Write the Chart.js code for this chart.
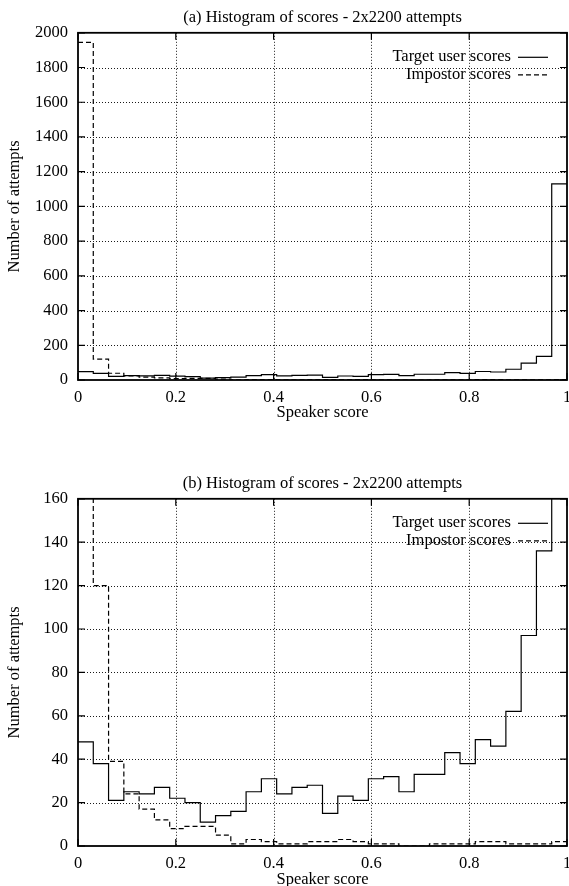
<!DOCTYPE html>
<html><head><meta charset="utf-8">
<script src="https://cdn.jsdelivr.net/npm/chart.js@4.4.1/dist/chart.umd.min.js"></script>
<style>
html,body{margin:0;padding:0;background:#fff;overflow:hidden;width:569px;height:886px;}
.wrap{position:absolute;left:0;width:569px;}
</style></head><body>
<div class="wrap" style="top:0;height:423px"><canvas id="ca"></canvas></div>
<div class="wrap" style="top:466px;height:424px"><canvas id="cb"></canvas></div>
<script>
// ---- data ----
const binCount = 32; // bins of width 1/32 over [0,1]
const targetScores   = [48,38,21,25,24,27,22,20,11,14,16,25,31,24,27,28,15,23,21,31,32,25,33,33,43,38,49,46,62,97,136,1130];
const impostorScores = [1945,120,39,24,17,12,8,9,9,5,1,3,2,1,1,2,2,3,2,1,1,0,0,1,1,1,2,2,1,1,1,2];
const seriesLabels = ['Target user scores', 'Impostor scores'];
const xTicks  = [0, 0.2, 0.4, 0.6, 0.8, 1];
const yTicksA = [0, 200, 400, 600, 800, 1000, 1200, 1400, 1600, 1800, 2000];
const yTicksB = [0, 20, 40, 60, 80, 100, 120, 140, 160];
const titleA = '(a) Histogram of scores - 2x2200 attempts';
const titleB = '(b) Histogram of scores - 2x2200 attempts';
const xTitle = 'Speaker score';
const yTitle = 'Number of attempts';

const FONT = {family: '"Liberation Serif", "Times New Roman", serif', size: 16.5, weight: 'normal'};
const binEdges = Array.from({length: binCount + 1}, (_, i) => i / binCount);

function stepPoints(values) {
  const pts = values.map((v, i) => ({x: binEdges[i], y: v}));
  pts.push({x: binEdges[binCount], y: values[values.length - 1]});
  return pts;
}

const framePlugin = {
  id: 'gnuFrame',
  beforeDatasetsDraw(chart) {
    const {ctx, chartArea: a, scales: {x, y}} = chart;
    ctx.save();
    ctx.strokeStyle = '#000';
    ctx.lineWidth = 0.9;
    ctx.setLineDash([1, 2]);
    x.ticks.forEach(t => {
      const px = Math.round(x.getPixelForValue(t.value)) + 0.5;
      if (px > a.left + 2 && px < a.right - 2) {
        ctx.beginPath(); ctx.moveTo(px, a.top); ctx.lineTo(px, a.bottom); ctx.stroke();
      }
    });
    y.ticks.forEach(t => {
      const py = Math.round(y.getPixelForValue(t.value)) + 0.5;
      if (py > a.top + 2 && py < a.bottom - 2) {
        ctx.beginPath(); ctx.moveTo(a.left, py); ctx.lineTo(a.right, py); ctx.stroke();
      }
    });
    ctx.restore();
  },
  afterDatasetsDraw(chart) {
    const {ctx, chartArea: a, scales: {x, y}} = chart;
    ctx.save();
    ctx.strokeStyle = '#000';
    ctx.setLineDash([]);
    ctx.lineWidth = 1.2;
    const tl = 7;
    x.ticks.forEach(t => {
      const px = x.getPixelForValue(t.value);
      ctx.beginPath();
      ctx.moveTo(px, a.bottom); ctx.lineTo(px, a.bottom - tl);
      ctx.moveTo(px, a.top); ctx.lineTo(px, a.top + tl);
      ctx.stroke();
    });
    y.ticks.forEach(t => {
      const py = y.getPixelForValue(t.value);
      ctx.beginPath();
      ctx.moveTo(a.left, py); ctx.lineTo(a.left + tl, py);
      ctx.moveTo(a.right, py); ctx.lineTo(a.right - tl, py);
      ctx.stroke();
    });
    ctx.lineWidth = 1.8;
    ctx.strokeRect(a.left, a.top, a.right - a.left, a.bottom - a.top);
    // legend (gnuplot style: right-aligned text followed by line sample)
    ctx.font = `${FONT.size}px ${FONT.family}`;
    ctx.fillStyle = '#000';
    ctx.textAlign = 'right';
    ctx.textBaseline = 'middle';
    ctx.lineWidth = 1.2;
    chart.data.datasets.forEach((ds, i) => {
      const ly = a.top + 24 + i * 17.5;
      ctx.fillText(ds.label, a.right - 56, ly);
      ctx.setLineDash(ds.borderDash || []);
      ctx.beginPath(); ctx.moveTo(a.right - 49, ly + 0.5); ctx.lineTo(a.right - 19, ly + 0.5); ctx.stroke();
    });
    ctx.restore();
  }
};

function makeChart(id, title, yTicks, xAxisHeight) {
  return new Chart(document.getElementById(id), {
    type: 'line',
    data: {
      datasets: [
        {label: seriesLabels[0], data: stepPoints(targetScores), stepped: 'before',
         borderColor: '#000', borderWidth: 1.2, pointRadius: 0, fill: false},
        {label: seriesLabels[1], data: stepPoints(impostorScores), stepped: 'before',
         borderColor: '#000', borderWidth: 1.2, borderDash: [5, 3], pointRadius: 0, fill: false}
      ]
    },
    options: {
      animation: false,
      responsive: true,
      maintainAspectRatio: false,
      events: [],
      layout: {padding: {left: 0, right: 2, top: 0, bottom: 0}},
      plugins: {
        legend: {display: false},
        tooltip: {enabled: false},
        title: {display: true, fullSize: false, text: title, color: '#000', font: FONT, padding: {top: 8, bottom: 5}}
      },
      scales: {
        x: {
          type: 'linear', min: 0, max: 1,
          grid: {display: false, drawTicks: false},
          border: {display: false},
          afterBuildTicks: s => { s.ticks = xTicks.map(v => ({value: v})); },
          afterFit: s => { s.height = xAxisHeight; s.paddingLeft = 0; s.paddingRight = 0; },
          ticks: {color: '#000', font: FONT, padding: 8, maxRotation: 0, autoSkip: false,
                  callback: v => String(v)},
          title: {display: true, text: xTitle, color: '#000', font: FONT, padding: 0}
        },
        y: {
          type: 'linear', min: yTicks[0], max: yTicks[yTicks.length - 1],
          grid: {display: false, drawTicks: false},
          border: {display: false},
          afterBuildTicks: s => { s.ticks = yTicks.map(v => ({value: v})); },
          afterFit: s => { s.width = 78; s.paddingTop = 0; s.paddingBottom = 0; },
          ticks: {color: '#000', font: FONT, padding: 10, autoSkip: false, callback: v => String(v)},
          title: {display: true, text: yTitle, color: '#000', font: FONT, padding: {top: 5, bottom: 0}}
        }
      }
    },
    plugins: [framePlugin]
  });
}

makeChart('ca', titleA, yTicksA, 43);
makeChart('cb', titleB, yTicksB, 44);
</script>
</body></html>
